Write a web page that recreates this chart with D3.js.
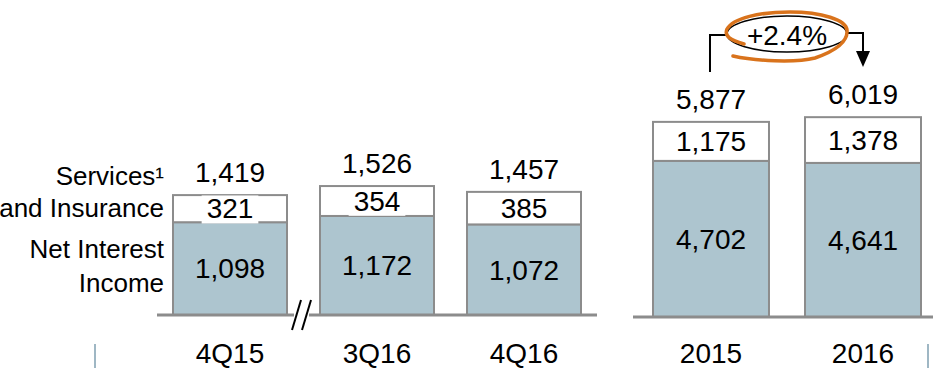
<!DOCTYPE html>
<html>
<head>
<meta charset="utf-8">
<script src="https://cdn.jsdelivr.net/npm/d3@7"></script>
<style>
  html, body { margin: 0; padding: 0; background: #fff; }
  svg { display: block; }
  text { font-family: "Liberation Sans", Arial, sans-serif; fill: #000; }
</style>
</head>
<body>
<svg id="chart" width="933" height="368"></svg>
<script>
// ---- data ----
const quarters = ["4Q15", "3Q16", "4Q16"];
const quarterNII = [1098, 1172, 1072];
const quarterServices = [321, 354, 385];
const quarterTotals = [1419, 1526, 1457];

const years = ["2015", "2016"];
const yearNII = [4702, 4641];
const yearServices = [1175, 1378];
const yearTotals = [5877, 6019];

const growthLabel = "+2.4%";
const seriesLabels = [["Services¹", "and Insurance"], ["Net Interest", "Income"]];

// ---- styles ----
const fillNII = "#adc5cf";
const fillServ = "#ffffff";
const edge = "#8c8c8c";
const fmt = d3.format(",");

const svg = d3.select("#chart");

function drawGroup(cats, nii, serv, tot, xScale, yScale) {
  const g = svg.append("g");
  cats.forEach((c, i) => {
    const x = xScale(c), w = xScale.bandwidth();
    const y0 = yScale(0), y1 = yScale(nii[i]), y2 = yScale(nii[i] + serv[i]);
    g.append("rect").attr("x", x).attr("y", y1).attr("width", w).attr("height", y0 - y1)
      .attr("fill", fillNII).attr("stroke", edge).attr("stroke-width", 2);
    g.append("rect").attr("x", x).attr("y", y2).attr("width", w).attr("height", y1 - y2)
      .attr("fill", fillServ).attr("stroke", edge).attr("stroke-width", 2);
    const cx = x + w / 2;
    g.append("text").attr("x", cx).attr("y", (y0 + y1) / 2).attr("dy", "0.35em")
      .attr("text-anchor", "middle").attr("font-size", 28).text(fmt(nii[i]));
    const t = g.append("text").attr("x", cx).attr("y", (y1 + y2) / 2).attr("dy", "0.35em")
      .attr("text-anchor", "middle").attr("font-size", 28).text(fmt(serv[i]));
    const bb = t.node().getBBox();
    g.insert("rect", function () { return t.node(); })
      .attr("x", bb.x - 5).attr("y", bb.y + 2).attr("width", bb.width + 10).attr("height", bb.height - 3)
      .attr("fill", "#fff");
    g.append("text").attr("x", cx).attr("y", y2 - 13)
      .attr("text-anchor", "middle").attr("font-size", 28).text(fmt(tot[i]));
    g.append("text").attr("x", cx).attr("y", 363)
      .attr("text-anchor", "middle").attr("font-size", 28).text(c);
  });
  return g;
}

// ---- quarterly panel ----
const xQ = d3.scaleBand().domain(quarters).range([173, 581]).paddingInner(0.2245).paddingOuter(0);
const yQ = d3.scaleLinear().domain([0, 1600]).range([315, 315 - 1600 * 0.0845]);
drawGroup(quarters, quarterNII, quarterServices, quarterTotals, xQ, yQ);

svg.append("line").attr("x1", 157).attr("x2", 294).attr("y1", yQ(0)).attr("y2", yQ(0))
  .attr("stroke", edge).attr("stroke-width", 3);
svg.append("line").attr("x1", 309).attr("x2", 597).attr("y1", yQ(0)).attr("y2", yQ(0))
  .attr("stroke", edge).attr("stroke-width", 3);
[[292, 301], [302, 311]].forEach(([a, b]) => {
  svg.append("line").attr("x1", a).attr("y1", 330).attr("x2", b).attr("y2", 300)
    .attr("stroke", "#000").attr("stroke-width", 2);
});

const lblY = [[185, 217], [258, 292]];
seriesLabels.forEach((lines, i) => {
  lines.forEach((s, j) => {
    svg.append("text").attr("x", 164).attr("y", lblY[i][j]).attr("text-anchor", "end")
      .attr("font-size", 26).text(s);
  });
});

// ---- annual panel ----
const xY = d3.scaleBand().domain(years).range([653, 921]).paddingInner(0.237).paddingOuter(0);
const yY = d3.scaleLinear().domain([0, 6500]).range([317, 317 - 6500 * 0.0332]);
drawGroup(years, yearNII, yearServices, yearTotals, xY, yY);
svg.append("line").attr("x1", 633).attr("x2", 933).attr("y1", yY(0)).attr("y2", yY(0))
  .attr("stroke", edge).attr("stroke-width", 3);

[95, 928].forEach(x => {
  svg.append("line").attr("x1", x).attr("x2", x).attr("y1", 344).attr("y2", 368)
    .attr("stroke", "#7f9fb0").attr("stroke-width", 1.5);
});

// ---- growth annotation ----
const ax1 = xY(years[0]) + xY.bandwidth() / 2 - 1;
const ax2 = xY(years[1]) + xY.bandwidth() / 2;
svg.append("path").attr("d", `M${ax1},72 V35 H727`).attr("fill", "none")
  .attr("stroke", "#000").attr("stroke-width", 2);
svg.append("path").attr("d", `M846,33 H${ax2} V52`).attr("fill", "none")
  .attr("stroke", "#000").attr("stroke-width", 2);
svg.append("path").attr("d", `M${ax2 - 7},51 L${ax2 + 7},51 L${ax2},67 Z`).attr("fill", "#000");
svg.append("ellipse").attr("cx", 787).attr("cy", 34).attr("rx", 60).attr("ry", 18)
  .attr("fill", "#fff").attr("stroke", "#000").attr("stroke-width", 1.5);
svg.append("path")
  .attr("d", "M744,44 C730,40 724,36 727,29 C733,18 760,12 790,12 C822,12 846,20 847,30 C848,40 838,50 815,58 C795,63 755,61 733,56")
  .attr("fill", "none").attr("stroke", "#d9731c").attr("stroke-width", 3.5).attr("stroke-linecap", "round");
svg.append("text").attr("x", 787).attr("y", 45).attr("text-anchor", "middle")
  .attr("font-size", 28).text(growthLabel);
</script>
</body>
</html>
